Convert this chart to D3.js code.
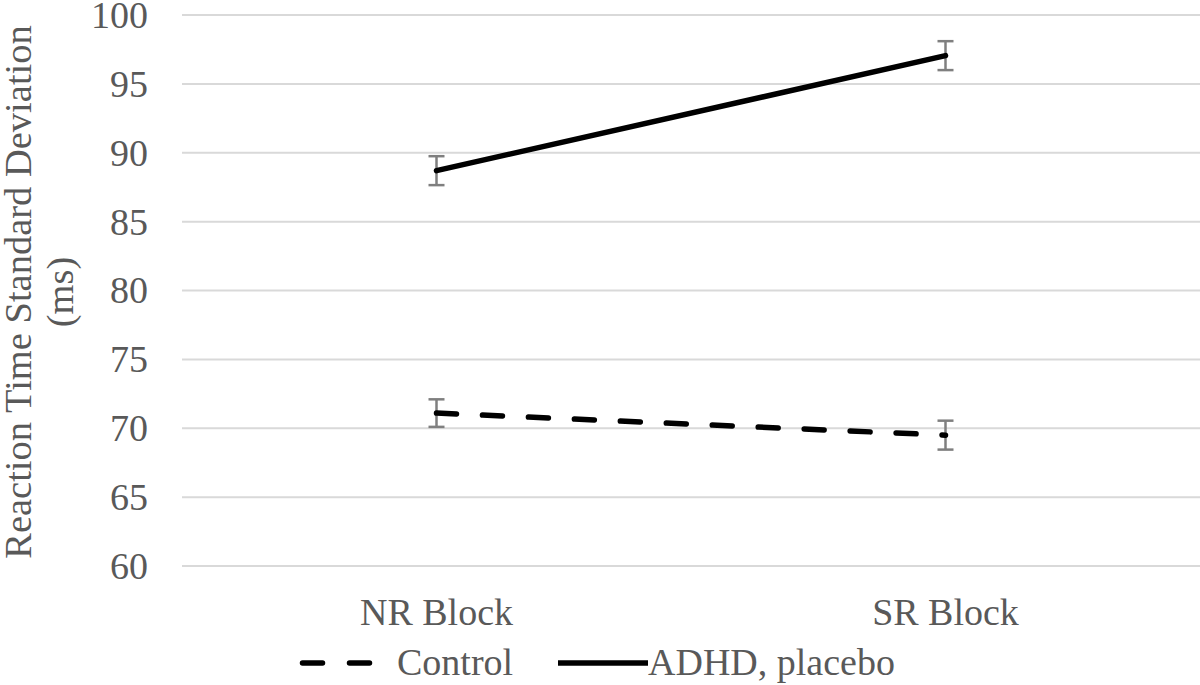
<!DOCTYPE html>
<html><head><meta charset="utf-8">
<script src="https://cdn.jsdelivr.net/npm/d3@7"></script>
<style>body{margin:0;background:#fff}svg{display:block}</style>
</head><body>
<svg id="c" width="1200" height="685"></svg>
<script>
const categories = ["NR Block", "SR Block"];
const seriesNames = ["Control", "ADHD, placebo"];
const controlValues = [71.1, 69.5];
const controlErrors = [1.0, 1.05];
const adhdValues = [88.7, 97.05];
const adhdErrors = [1.05, 1.05];
const yTicks = [60, 65, 70, 75, 80, 85, 90, 95, 100];
const yTitle = ["Reaction Time Standard Deviation", "(ms)"];

const svg = d3.select("#c");
const font = "'Liberation Serif', 'Times New Roman', serif";
const gray = "#595959";
const plotL = 182, plotR = 1200, plotT = 15, plotB = 566;

const x = d3.scaleBand().domain(categories).range([plotL, plotR]);
const y = d3.scaleLinear().domain([60, 100]).range([plotB, plotT]);

// gridlines
svg.append("g").selectAll("line").data(yTicks).join("line")
  .attr("x1", plotL).attr("x2", plotR)
  .attr("y1", d => y(d)).attr("y2", d => y(d))
  .attr("stroke", "#d9d9d9").attr("stroke-width", 2);

// y tick labels
svg.append("g").selectAll("text").data(yTicks).join("text")
  .attr("x", 148).attr("y", d => y(d)).attr("dy", "0.34em")
  .attr("text-anchor", "end").style("font-family", font).style("font-size", "38px")
  .attr("fill", gray).text(d => d);

// y title
const yt = svg.append("text").attr("transform", `translate(0,${292}) rotate(-90)`)
  .attr("text-anchor", "middle").style("font-family", font).style("font-size", "38.5px").attr("fill", gray);
yt.append("tspan").attr("x", 0).attr("y", 31).text(yTitle[0]);
yt.append("tspan").attr("x", 0).attr("y", 73).text(yTitle[1]);

// x labels
svg.append("g").selectAll("text").data(categories).join("text")
  .attr("x", d => x(d) + x.bandwidth() / 2).attr("y", 625)
  .attr("text-anchor", "middle").style("font-family", font).style("font-size", "38px")
  .attr("fill", gray).text(d => d);

const cx = d => x(d) + x.bandwidth() / 2;
const series = [
  {name: seriesNames[0], values: controlValues, errors: controlErrors, dash: "20,26", width: 5.5},
  {name: seriesNames[1], values: adhdValues, errors: adhdErrors, dash: null, width: 5.5}
];

// error bars
series.forEach(s => {
  const g = svg.append("g").attr("stroke", "#7f7f7f").attr("stroke-width", 2.5);
  categories.forEach((c, i) => {
    const v = s.values[i], e = s.errors[i];
    g.append("line").attr("x1", cx(c)).attr("x2", cx(c)).attr("y1", y(v + e)).attr("y2", y(v - e));
    g.append("line").attr("x1", cx(c) - 8).attr("x2", cx(c) + 8).attr("y1", y(v + e)).attr("y2", y(v + e));
    g.append("line").attr("x1", cx(c) - 8).attr("x2", cx(c) + 8).attr("y1", y(v - e)).attr("y2", y(v - e));
  });
});

// lines
const line = d3.line().x(d => cx(d.c)).y(d => y(d.v));
series.forEach(s => {
  svg.append("path").datum(categories.map((c, i) => ({c, v: s.values[i]})))
    .attr("d", line).attr("fill", "none").attr("stroke", "#000")
    .attr("stroke-width", s.width).attr("stroke-linecap", "round")
    .attr("stroke-dasharray", s.dash);
});

// legend
const lg = svg.append("g");
lg.append("line").attr("x1", 302.5).attr("x2", 369.5).attr("y1", 663).attr("y2", 663)
  .attr("stroke", "#000").attr("stroke-width", 5.5).attr("stroke-linecap", "round")
  .attr("stroke-dasharray", "20,27");
lg.append("text").attr("x", 397).attr("y", 675).style("font-family", font).style("font-size", "38px")
  .attr("fill", gray).text(seriesNames[0]);
lg.append("line").attr("x1", 558).attr("x2", 648).attr("y1", 663).attr("y2", 663)
  .attr("stroke", "#000").attr("stroke-width", 5.5);
lg.append("text").attr("x", 648).attr("y", 675).style("font-family", font).style("font-size", "38px")
  .attr("fill", gray).text(seriesNames[1]);
</script>
</body></html>
